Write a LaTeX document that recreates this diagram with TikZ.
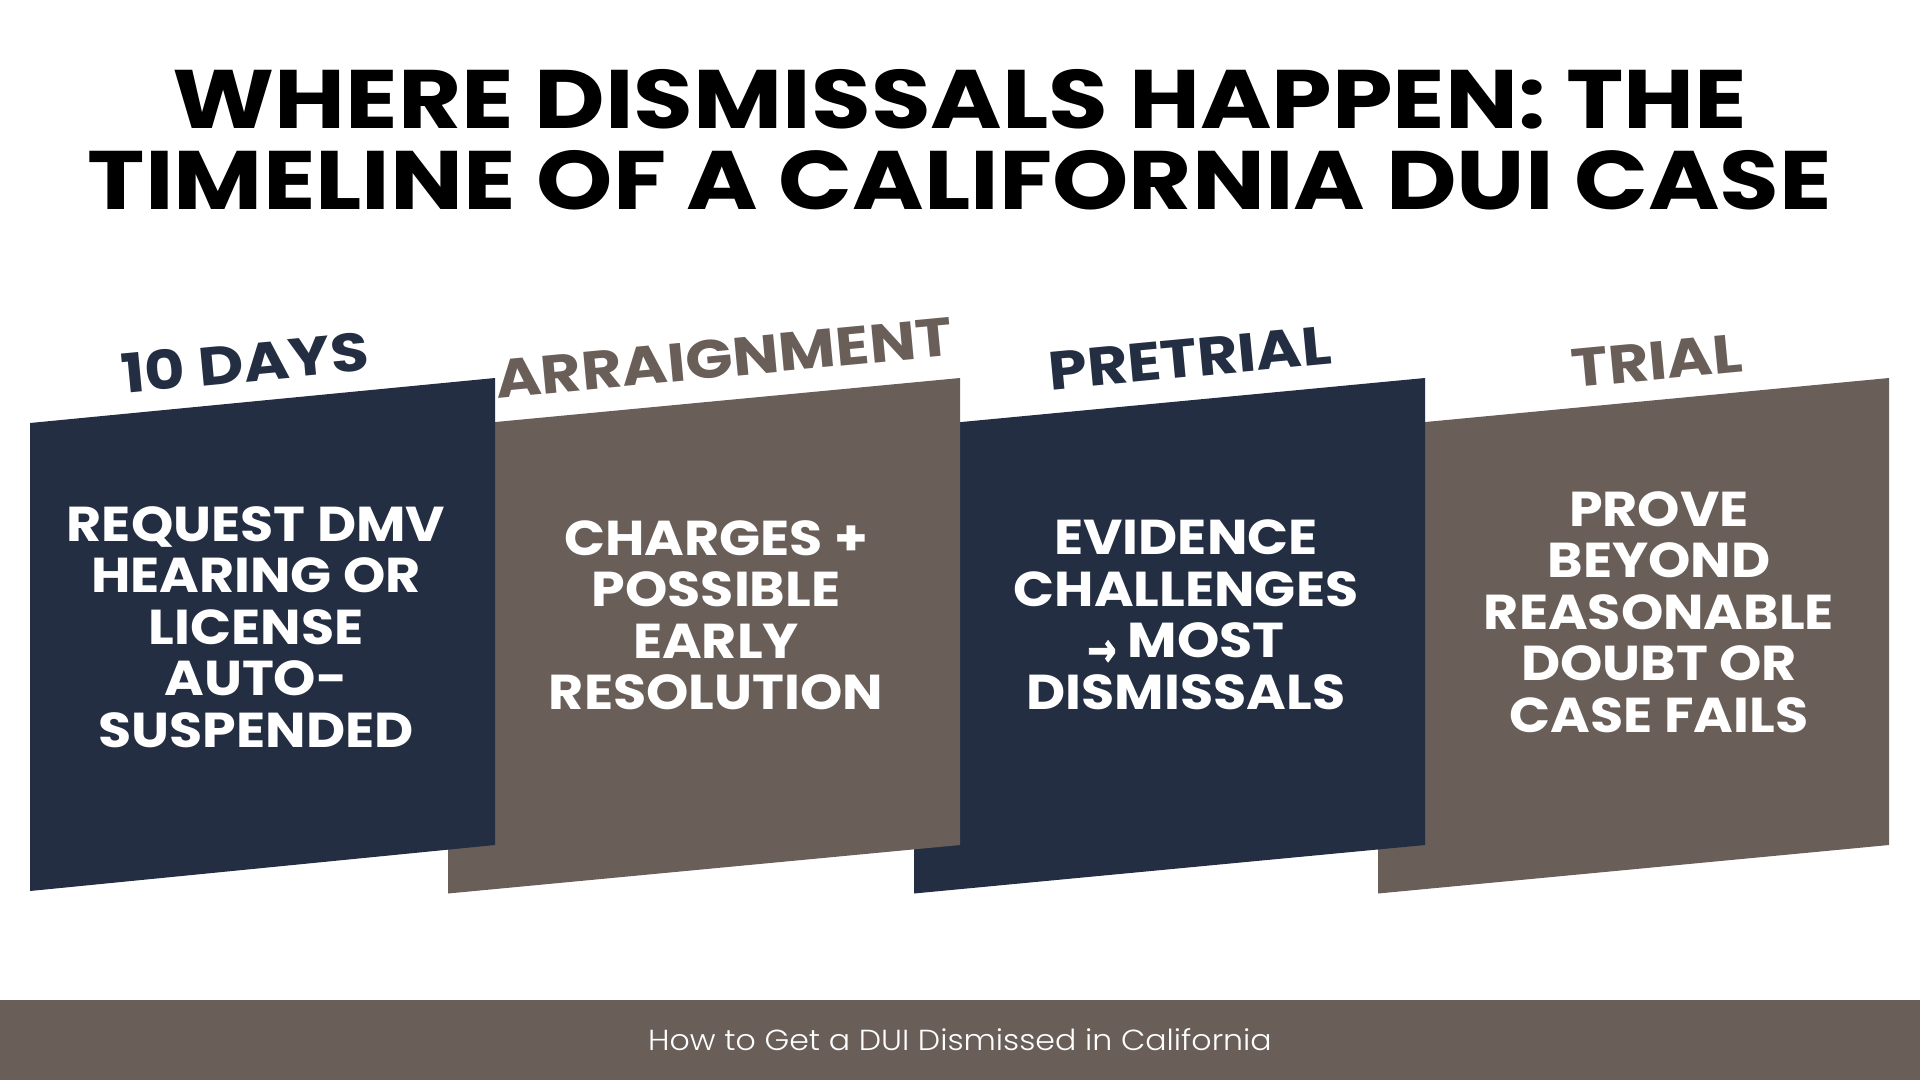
\documentclass[tikz,border=0pt]{standalone}
\usepackage{fontspec}
\setmainfont{Poppins}
\newfontfamily\titlefont{Poppins}[FakeStretch=1.17]
\newfontfamily\phasefont{Poppins}[FakeStretch=1.15]
\newfontfamily\bodyfont{Poppins}[FakeStretch=1.10]
\newfontfamily\footfont{Poppins}[UprightFont=* Light, FakeStretch=1.09]
\newfontfamily\arrowfont{DejaVu Sans}[UprightFont=* Bold, FakeBold=2.5]
\definecolor{navy}{HTML}{232E42}
\definecolor{taupe}{HTML}{695F58}
\begin{document}
\begin{tikzpicture}[x=1pt,y=-1pt,
  phase/.style={font=\phasefont\fontsize{54}{54}\selectfont\bfseries, rotate=5.4, inner sep=0, anchor=center},
  body/.style={font=\bodyfont\fontsize{49}{51.5}\selectfont\bfseries, text=white, align=center, inner sep=0, anchor=center},
  ]
\useasboundingbox (0,0) rectangle (1920,1080);
\fill[white] (0,0) rectangle (1920,1080);
% title
\node[font=\titlefont\fontsize{83}{81}\selectfont\bfseries, align=center, inner sep=0] (title) at (960,140)
  {WHERE DISMISSALS HAPPEN: THE\\TIMELINE OF A CALIFORNIA DUI CASE};
% panels (back to front)
\fill[taupe] (1378,426.5) -- (1889,378) -- (1889,845) -- (1378,893.5) -- cycle;
\fill[navy]  (914,426.5) -- (1425,378) -- (1425,845) -- (914,893.5) -- cycle;
\fill[taupe] (448,426.5) -- (960,378) -- (960,845) -- (448,893.5) -- cycle;
\fill[navy]  (30,423) -- (495,378) -- (495,845) -- (30,891) -- cycle;
% phase labels
\node[phase, text=navy]  (p1) at (245,362) {10 DAYS};
\node[phase, text=taupe] (p2) at (724,358) {ARRAIGNMENT};
\node[phase, text=navy]  (p3) at (1190,358) {PRETRIAL};
\node[phase, text=taupe] (p4) at (1657,361) {TRIAL};
% body texts
\node[body] (b1) at (256,627) {REQUEST DMV\\HEARING OR\\LICENSE\\AUTO-\\SUSPENDED};
\node[body] (b2) at (716,615) {CHARGES +\\POSSIBLE\\EARLY\\RESOLUTION};
\node[body] (b3) at (1186,615) {EVIDENCE\\CHALLENGES\\\raisebox{-8pt}{\arrowfont\fontsize{47}{47}\selectfont\scalebox{0.74}[1.0]{→}} MOST\\DISMISSALS};
\node[body] (b4) at (1659,612) {PROVE\\BEYOND\\REASONABLE\\DOUBT OR\\CASE FAILS};
% footer
\fill[taupe] (0,1000) rectangle (1920,1080);
\node[font=\footfont\fontsize{29}{29}\selectfont, text=white, inner sep=0] (foot) at (960,1040) {How to Get a DUI Dismissed in California};
\end{tikzpicture}
\end{document}
